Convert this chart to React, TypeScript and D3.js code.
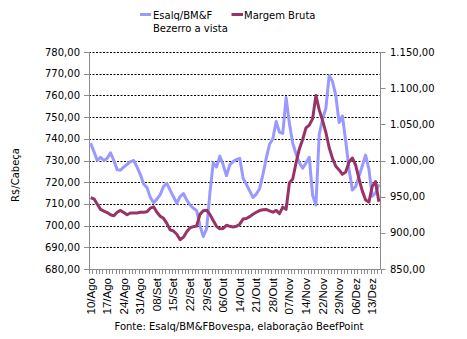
import React from "react";
import * as d3 from "d3";

const esalq: number[] = [
  738, 734, 730, 731.5, 730, 731, 733.5, 730, 725.8, 725.5,
  727, 728.2, 729.5, 730, 727, 723.5, 719.2, 717.5, 713, 710.5,
  712.2, 714.3, 718, 719.5, 716.3, 713.3, 710.3, 713.4, 714.8, 711.8,
  709.5, 708, 707, 700, 695, 698.5, 715, 729, 727, 732,
  728, 723, 728, 729.5, 730.4, 731, 722, 719, 716, 713,
  714.5, 717, 723.5, 731, 737.5, 740, 748, 743, 742.5, 759,
  747, 738, 733, 729, 726.4, 728.8, 731.5, 714, 709.5, 742,
  749, 754, 769, 766.5, 760, 747.5, 750.5, 739, 726, 716.4,
  718, 722.8, 727.5, 732.5, 726, 713.5, 715, 719,
];

const margem: number[] = [
  948.5, 947, 939.5, 932.5, 930, 928, 925, 923.5, 928.5, 931,
  928, 925, 927.5, 927.5, 927.5, 928.5, 928.5, 929, 934, 936,
  928.5, 923, 920, 913, 904, 902.5, 898, 890.5, 894, 901.5,
  907, 908.5, 909.4, 925.5, 930.5, 931.3, 925.5, 917, 909, 905.5,
  906, 910.5, 909, 908, 909, 912, 919, 919.8, 922.4, 925.8,
  928.5, 930.8, 932, 932.3, 930.5, 928.5, 931, 926.5, 935.5, 932.5,
  969, 974.5, 996.5, 1016, 1029, 1045, 1049, 1057.5, 1090, 1070,
  1055.5, 1039, 1018, 1003, 992, 987, 981, 984, 998, 1003.5,
  993.5, 975, 958, 945.5, 942.5, 964, 971, 943,
];

const dateLabels: string[] = [
  "10/Ago", "17/Ago", "24/Ago", "31/Ago", "08/Set", "15/Set", "22/Set", "29/Set",
  "06/Out", "14/Out", "21/Out", "28/Out", "07/Nov", "14/Nov", "22/Nov", "29/Nov",
  "06/Dez", "13/Dez",
];
const labelStep = 5;

const leftTicks: number[] = [680, 690, 700, 710, 720, 730, 740, 750, 760, 770, 780];
const rightTicks: number[] = [850, 900, 950, 1000, 1050, 1100, 1150];

const seriesNames: string[] = ["Esalq/BM&F", "Margem Bruta"];
const seriesSub = "Bezerro a vista";
const yTitle = "R$/Cabeça";
const source = "Fonte: Esalq/BM&FBovespa, elaboração BeefPoint";

const LAV = "#9999FF";
const MAR = "#993366";
const AXIS = "#8c8c8c";
const FONT = "'DejaVu Sans', Verdana, sans-serif";
const XFONT = "'Liberation Sans', Arial, sans-serif";

const ptBR = d3.formatLocale({
  decimal: ",",
  thousands: ".",
  grouping: [3],
  currency: ["R$", ""],
});
const fmt = ptBR.format(",.2f");

export default function App() {
  const W = 467;
  const H = 339;
  const left = 89;
  const right = 380.5;
  const top = 52;
  const bottom = 269;

  const n = esalq.length;
  const x = d3
    .scaleBand<number>()
    .domain(d3.range(n))
    .range([left, right])
    .padding(0);
  const bw = x.bandwidth();
  const cx = (i: number) => (x(i) as number) + bw / 2;

  const yL = d3.scaleLinear().domain([680, 780]).range([bottom, top]);
  const yR = d3.scaleLinear().domain([850, 1150]).range([bottom, top]);

  const lineL = d3
    .line<number>()
    .x((_, i) => cx(i))
    .y((d) => yL(d));
  const lineR = d3
    .line<number>()
    .x((_, i) => cx(i))
    .y((d) => yR(d));

  const boundaries = d3.range(n + 1).map((k) => left + k * bw);

  return (
    <svg
      width={W}
      height={H}
      style={{ position: "absolute", left: 0, top: 0, background: "#fff" }}
      xmlns="http://www.w3.org/2000/svg"
    >
      <rect x={0} y={0} width={W} height={H} fill="#fff" />

      {/* gridlines */}
      {leftTicks
        .filter((t) => t !== 680)
        .map((t) => (
          <line
            key={"g" + t}
            x1={left}
            x2={right}
            y1={Math.round(yL(t)) + 0.5}
            y2={Math.round(yL(t)) + 0.5}
            stroke="#000"
            strokeWidth={1}
            strokeDasharray="2,1.5"
          />
        ))}

      {/* axes lines */}
      <line x1={left + 0.5} x2={left + 0.5} y1={top} y2={bottom} stroke={AXIS} />
      <line x1={right} x2={right} y1={top} y2={bottom} stroke={AXIS} />
      <line x1={left} x2={right} y1={bottom + 0.5} y2={bottom + 0.5} stroke={AXIS} />

      {/* left ticks */}
      {leftTicks.map((t) => (
        <g key={"l" + t}>
          <line
            x1={left - 5}
            x2={left}
            y1={Math.round(yL(t)) + 0.5}
            y2={Math.round(yL(t)) + 0.5}
            stroke={AXIS}
          />
          <text
            x={80}
            y={yL(t)}
            dy="0.35em"
            textAnchor="end"
            fontFamily={FONT}
            fontSize={10}
            fill="#000"
          >
            {fmt(t)}
          </text>
        </g>
      ))}

      {/* right ticks */}
      {rightTicks.map((t) => (
        <g key={"r" + t}>
          <line
            x1={right}
            x2={right + 5}
            y1={Math.round(yR(t)) + 0.5}
            y2={Math.round(yR(t)) + 0.5}
            stroke={AXIS}
          />
          <text
            x={390}
            y={yR(t)}
            dy="0.35em"
            textAnchor="start"
            fontFamily={FONT}
            fontSize={10}
            fill="#000"
          >
            {fmt(t)}
          </text>
        </g>
      ))}

      {/* bottom ticks */}
      {boundaries.map((b, k) => (
        <line
          key={"b" + k}
          x1={Math.round(b) + 0.5}
          x2={Math.round(b) + 0.5}
          y1={bottom}
          y2={bottom + 5}
          stroke={AXIS}
        />
      ))}

      {/* x labels */}
      {dateLabels.map((lab, j) => {
        const i = j * labelStep;
        const xx = cx(i);
        return (
          <text
            key={"x" + j}
            transform={`translate(${xx + 4},278) rotate(-90)`}
            textAnchor="end"
            fontFamily={XFONT}
            fontSize={11.5}
            fill="#000"
          >
            {lab}
          </text>
        );
      })}

      {/* series */}
      <path
        d={lineL(esalq) || ""}
        fill="none"
        stroke={LAV}
        strokeWidth={3}
        strokeLinejoin="round"
      />
      <path
        d={lineR(margem) || ""}
        fill="none"
        stroke={MAR}
        strokeWidth={3}
        strokeLinejoin="round"
      />

      {/* y title */}
      <text
        transform="translate(19,175) rotate(-90)"
        textAnchor="middle"
        fontFamily={FONT}
        fontSize={10}
        fill="#000"
      >
        {yTitle}
      </text>

      {/* legend */}
      <line x1={140} x2={151} y1={14.5} y2={14.5} stroke={LAV} strokeWidth={3} />
      <text x={153} y={19} fontFamily={FONT} fontSize={10} fill="#000">
        {seriesNames[0]}
      </text>
      <text x={153} y={32} fontFamily={FONT} fontSize={10} fill="#000">
        {seriesSub}
      </text>
      <line x1={231.5} x2={243} y1={14.5} y2={14.5} stroke={MAR} strokeWidth={3} />
      <text x={244} y={19} fontFamily={FONT} fontSize={10} fill="#000">
        {seriesNames[1]}
      </text>

      {/* source */}
      <text
        x={239}
        y={330}
        textAnchor="middle"
        fontFamily={FONT}
        fontSize={10}
        fill="#000"
      >
        {source}
      </text>
    </svg>
  );
}
